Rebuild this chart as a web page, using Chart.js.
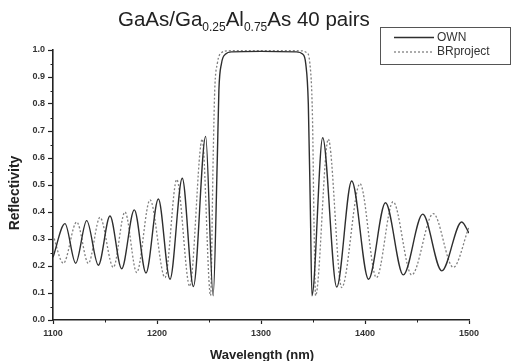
<!DOCTYPE html>
<html>
<head>
<meta charset="utf-8">
<script src="https://cdn.jsdelivr.net/npm/chart.js@4.4.1/dist/chart.umd.min.js"></script>
<style>
    html, body { margin: 0; padding: 0; background: #fff; }
    #wrap { position: relative; width: 516px; height: 361px; }
    #title {
        position: absolute; left: 118px; top: 7px;
        font: 20.5px "Liberation Sans", Arial, sans-serif; color: #222;
        white-space: nowrap;
    }
    #title sub { font-size: 12px; vertical-align: -5px; line-height: 0; }
</style>
</head>
<body>
<div id="wrap">
    <canvas id="chart" width="516" height="361"></canvas>
    <div id="title">GaAs/Ga<sub>0.25</sub>Al<sub>0.75</sub>As 40 pairs</div>
</div>
<script>
// Values
const ownWavelength = [1100, 1111.5, 1121.8, 1132.4, 1143.6, 1154.8, 1166, 1178.2, 1189.4, 1201.3, 1212.5, 1224.3, 1235, 1246.8, 1254, 1258, 1259.5, 1262, 1266, 1272, 1300, 1334, 1340, 1343, 1345.5, 1347.5, 1349, 1359.3, 1372.8, 1387.2, 1403.4, 1419.7, 1436.8, 1455.5, 1473.8, 1493, 1500];
const ownReflectivity = [0.232, 0.357, 0.21, 0.368, 0.203, 0.385, 0.19, 0.408, 0.174, 0.448, 0.151, 0.525, 0.124, 0.68, 0.09, 0.6, 0.85, 0.95, 0.985, 0.993, 0.995, 0.993, 0.985, 0.95, 0.8, 0.4, 0.09, 0.675, 0.122, 0.515, 0.151, 0.434, 0.167, 0.392, 0.182, 0.363, 0.322];

const brWavelength = [1100, 1110, 1122.8, 1134, 1145.2, 1158, 1169.2, 1180.5, 1193.3, 1207.7, 1219, 1231.5, 1243.5, 1251.5, 1254, 1255.5, 1258, 1262, 1268, 1300, 1338, 1344, 1347, 1349.5, 1351, 1352.5, 1364.7, 1377.6, 1395.2, 1411, 1427, 1444.9, 1465.7, 1484.9, 1500];
const brReflectivity = [0.315, 0.21, 0.363, 0.21, 0.38, 0.195, 0.4, 0.176, 0.445, 0.157, 0.52, 0.125, 0.67, 0.09, 0.6, 0.85, 0.95, 0.99, 0.997, 0.998, 0.997, 0.99, 0.95, 0.75, 0.35, 0.09, 0.67, 0.12, 0.505, 0.157, 0.438, 0.167, 0.394, 0.195, 0.345];

const xMin = 1100, xMax = 1500, xStep = 100, xMinorStep = 50;
const yMin = 0, yMax = 1, yStep = 0.1, yMinorStep = 0.05;

const seriesNames = ['OWN', 'BRproject'];
const axisTitles = { x: 'Wavelength (nm)', y: 'Reflectivity' };

const toPoints = (xs, ys) => xs.map((x, i) => ({ x: x, y: ys[i] }));
const inkColor = '#222';
const tickFont = { family: '"Liberation Sans", Arial, sans-serif', size: 9, weight: 'bold' };

// Minor ticks, axis titles and the framed legend
const extrasPlugin = {
    id: 'extras',
    afterDraw(chart) {
        const ctx = chart.ctx;
        const xs = chart.scales.x, ys = chart.scales.y;
        const area = chart.chartArea;
        ctx.save();
        ctx.strokeStyle = inkColor;
        ctx.lineWidth = 1;
        for (let v = xMin + xMinorStep; v < xMax; v += xStep) {
            const px = Math.round(xs.getPixelForValue(v)) + 0.5;
            ctx.beginPath(); ctx.moveTo(px, area.bottom); ctx.lineTo(px, area.bottom + 2.5); ctx.stroke();
        }
        for (let v = yMin + yMinorStep; v < yMax; v += yStep) {
            const py = Math.round(ys.getPixelForValue(v)) + 0.5;
            ctx.beginPath(); ctx.moveTo(area.left, py); ctx.lineTo(area.left - 2.5, py); ctx.stroke();
        }

        // axis titles
        ctx.fillStyle = inkColor;
        ctx.font = 'bold 13px "Liberation Sans", Arial, sans-serif';
        ctx.textAlign = 'center';
        ctx.textBaseline = 'alphabetic';
        ctx.fillText(axisTitles.x, 262, 359);
        ctx.font = 'bold 14px "Liberation Sans", Arial, sans-serif';
        ctx.translate(19, 193);
        ctx.rotate(-Math.PI / 2);
        ctx.fillText(axisTitles.y, 0, 0);
        ctx.setTransform(1, 0, 0, 1, 0, 0);

        // legend
        ctx.strokeStyle = '#555';
        ctx.lineWidth = 1;
        ctx.strokeRect(380.5, 27.5, 130, 37);
        const ds = chart.data.datasets;
        const rows = [37.5, 52];
        ctx.font = '12px "Liberation Sans", Arial, sans-serif';
        ctx.textAlign = 'left';
        ctx.textBaseline = 'middle';
        ds.forEach((d, i) => {
            ctx.strokeStyle = d.borderColor;
            ctx.lineWidth = d.borderWidth;
            ctx.setLineDash(d.borderDash || []);
            ctx.beginPath(); ctx.moveTo(394, rows[i]); ctx.lineTo(434, rows[i]); ctx.stroke();
            ctx.setLineDash([]);
            ctx.fillStyle = '#333';
            ctx.fillText(d.label, 437, rows[i]);
        });
        ctx.restore();
    }
};

const ctx = document.getElementById('chart').getContext('2d');
new Chart(ctx, {
    type: 'line',
    data: {
        datasets: [{
            label: seriesNames[0],
            data: toPoints(ownWavelength, ownReflectivity),
            borderColor: '#2e2e2e',
            borderWidth: 1.4,
            pointRadius: 0,
            cubicInterpolationMode: 'monotone',
            fill: false
        }, {
            label: seriesNames[1],
            data: toPoints(brWavelength, brReflectivity),
            borderColor: '#808080',
            borderWidth: 1.3,
            borderDash: [2, 2],
            pointRadius: 0,
            cubicInterpolationMode: 'monotone',
            fill: false
        }]
    },
    options: {
        responsive: false,
        animation: false,
        layout: { padding: { top: 50, right: 47, left: 0, bottom: 0 } },
        plugins: {
            legend: { display: false },
            tooltip: { enabled: false }
        },
        scales: {
            x: {
                type: 'linear',
                min: xMin, max: xMax,
                afterFit: s => { s.height = 41; },
                ticks: { stepSize: xStep, font: tickFont, color: '#333', padding: 4, maxRotation: 0, callback: v => String(v) },
                grid: { drawOnChartArea: false, tickLength: 4, tickColor: inkColor, tickWidth: 1.2 },
                border: { color: inkColor, width: 1.6 }
            },
            y: {
                min: yMin, max: yMax,
                afterFit: s => { s.width = 53; },
                ticks: { stepSize: yStep, font: tickFont, color: '#333', padding: 3, callback: v => v.toFixed(1) },
                grid: { drawOnChartArea: false, tickLength: 5, tickColor: inkColor, tickWidth: 1.2 },
                border: { color: inkColor, width: 1.6 }
            }
        }
    },
    plugins: [extrasPlugin]
});
</script>
</body>
</html>
